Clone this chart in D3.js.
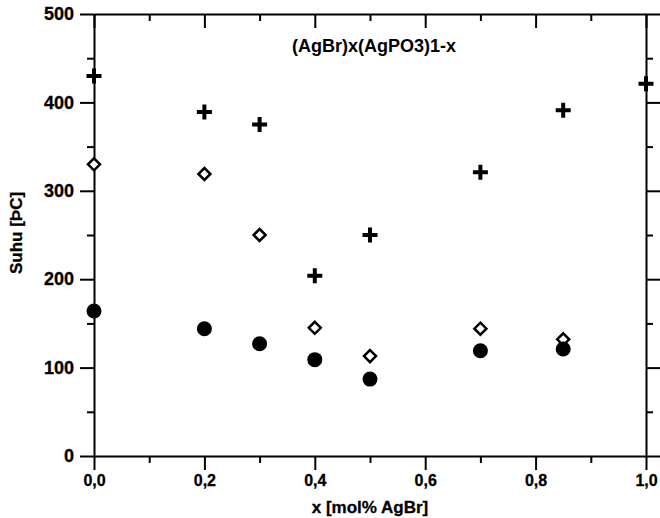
<!DOCTYPE html>
<html lang="id">
<head>
<meta charset="UTF-8">
<title>(AgBr)x(AgPO3)1-x</title>
<script src="https://cdn.jsdelivr.net/npm/d3@7"></script>
<style>
  * { margin: 0; }
  body { background: #fff; }
  svg text { font-family: "Liberation Sans", Arial, sans-serif; font-weight: bold; fill: #000; }
</style>
</head>
<body>
<svg id="chart" width="660" height="518"></svg>
<script>
  // data
  const komposisi = [0, 0.2, 0.3, 0.4, 0.5, 0.7, 0.85, 1.0];
  const suhuPlus = [430, 389, 375, 204, 250, 321, 391, 421];
  const komposisiBawah = [0, 0.2, 0.3, 0.4, 0.5, 0.7, 0.85];
  const suhuDiamond = [330, 319, 250, 145, 113, 144, 132];
  const suhuBulat = [164, 144, 127, 109, 87, 119, 121];

  const xTicks = [0, 0.2, 0.4, 0.6, 0.8, 1.0];
  const xMinor = [0.1, 0.3, 0.5, 0.7, 0.9];
  const yTicks = [0, 100, 200, 300, 400, 500];
  const yMinor = [50, 150, 250, 350, 450];

  const W = 660, H = 518;
  const margin = { top: 14, right: 14, bottom: 62, left: 94 };

  const svg = d3.select('#chart');

  const x = d3.scaleLinear().domain([0, 1]).range([margin.left, W - margin.right]);
  const y = d3.scaleLinear().domain([0, 500]).range([H - margin.bottom, margin.top]);

  const fmt = d => d3.format('.1f')(d).replace('.', ',');
  const MAJ = 14, MIN = 7;

  function styleAxis(g) {
    g.selectAll('path, line').attr('stroke', '#000').attr('stroke-width', 2);
  }

  // sumbu bawah
  svg.append('g')
    .attr('transform', `translate(0,${y(0)})`)
    .call(d3.axisBottom(x).tickValues(xTicks).tickFormat(fmt).tickSize(MAJ).tickSizeOuter(0).tickPadding(5))
    .call(styleAxis)
    .call(g => g.selectAll('text').attr('font-size', 16).attr('stroke', '#000').attr('stroke-width', 0.3));
  svg.append('g')
    .attr('transform', `translate(0,${y(0)})`)
    .call(d3.axisBottom(x).tickValues(xMinor).tickFormat('').tickSize(MIN))
    .call(styleAxis)
    .call(g => g.select('.domain').remove());

  // sumbu atas (tick ke dalam)
  svg.append('g')
    .attr('transform', `translate(0,${y(500)})`)
    .call(d3.axisTop(x).tickValues(xTicks).tickFormat('').tickSize(-MAJ).tickSizeOuter(0))
    .call(styleAxis);
  svg.append('g')
    .attr('transform', `translate(0,${y(500)})`)
    .call(d3.axisTop(x).tickValues(xMinor).tickFormat('').tickSize(-MIN))
    .call(styleAxis)
    .call(g => g.select('.domain').remove());

  // sumbu kiri
  svg.append('g')
    .attr('transform', `translate(${x(0)},0)`)
    .call(d3.axisLeft(y).tickValues(yTicks).tickSize(MAJ).tickSizeOuter(0).tickPadding(6))
    .call(styleAxis)
    .call(g => g.selectAll('text').attr('font-size', 18).attr('stroke', '#000').attr('stroke-width', 0.3));
  svg.append('g')
    .attr('transform', `translate(${x(0)},0)`)
    .call(d3.axisLeft(y).tickValues(yMinor).tickFormat('').tickSize(MIN))
    .call(styleAxis)
    .call(g => g.select('.domain').remove());

  // sumbu kanan
  svg.append('g')
    .attr('transform', `translate(${x(1)},0)`)
    .call(d3.axisRight(y).tickValues(yTicks).tickFormat('').tickSize(MAJ).tickSizeOuter(0))
    .call(styleAxis);
  svg.append('g')
    .attr('transform', `translate(${x(1)},0)`)
    .call(d3.axisRight(y).tickValues(yMinor).tickFormat('').tickSize(MIN))
    .call(styleAxis)
    .call(g => g.select('.domain').remove());

  // judul
  svg.append('text')
    .attr('x', (x(0) + x(1)) / 2 + 4)
    .attr('y', 52)
    .attr('text-anchor', 'middle')
    .attr('font-size', 18)
    .text('(AgBr)x(AgPO3)1-x');

  svg.append('text')
    .attr('x', (x(0) + x(1)) / 2)
    .attr('y', 513)
    .attr('text-anchor', 'middle')
    .attr('font-size', 17)
    .attr('stroke', '#000')
    .attr('stroke-width', 0.3)
    .text('x [mol% AgBr]');

  svg.append('text')
    .attr('transform', `translate(22,${y(250) - 2}) rotate(-90)`)
    .attr('text-anchor', 'middle')
    .attr('font-size', 17)
    .attr('stroke', '#000')
    .attr('stroke-width', 0.3)
    .text('Suhu [ÞC]');

  // titik-titik data
  const plusData = komposisi.map((k, i) => ({ k, v: suhuPlus[i] }));
  const diamondData = komposisiBawah.map((k, i) => ({ k, v: suhuDiamond[i] }));
  const bulatData = komposisiBawah.map((k, i) => ({ k, v: suhuBulat[i] }));

  svg.append('g').selectAll('path')
    .data(plusData)
    .enter().append('path')
    .attr('transform', d => `translate(${x(d.k)},${y(d.v)})`)
    .attr('d', 'M-7.5,0H7.5M0,-7.5V7.5')
    .attr('stroke', '#000')
    .attr('stroke-width', 4)
    .attr('fill', 'none');

  svg.append('g').selectAll('path')
    .data(diamondData)
    .enter().append('path')
    .attr('transform', d => `translate(${x(d.k)},${y(d.v)})`)
    .attr('d', 'M0,-6L6,0L0,6L-6,0Z')
    .attr('stroke', '#000')
    .attr('stroke-width', 2.5)
    .attr('fill', '#fff');

  svg.append('g').selectAll('circle')
    .data(bulatData)
    .enter().append('circle')
    .attr('cx', d => x(d.k))
    .attr('cy', d => y(d.v))
    .attr('r', 7.5)
    .attr('fill', '#000');
</script>
</body>
</html>
